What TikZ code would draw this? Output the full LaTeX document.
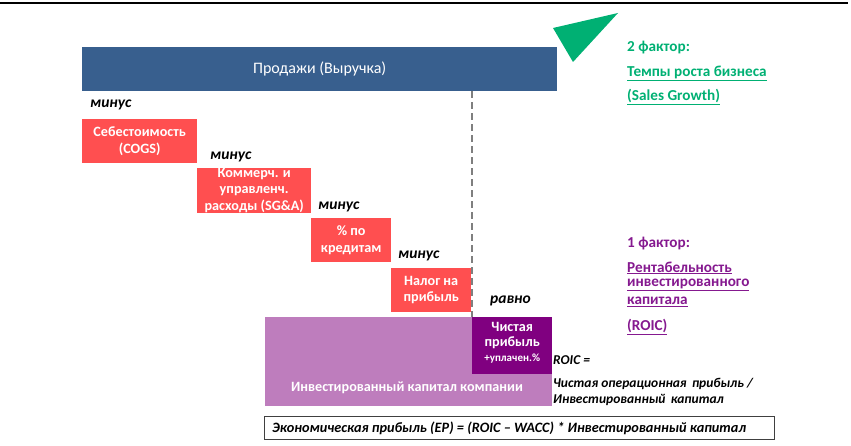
\documentclass[tikz,border=0pt]{standalone}
\usepackage{fontspec}
\setmainfont{Carlito}
\definecolor{salesblue}{HTML}{385F8E}
\definecolor{costred}{HTML}{FF4F50}
\definecolor{lightpurple}{HTML}{BE7DBD}
\definecolor{darkpurple}{HTML}{800080}
\definecolor{greenf}{HTML}{00B073}
\definecolor{purplef}{HTML}{85198F}
\definecolor{dashgray}{HTML}{7F7F7F}
\tikzset{
  blockbox/.style={draw=none, anchor=north west, inner sep=0pt, align=center, text=white, font=\bfseries\fontsize{14.2}{16.5}\selectfont},
  costbox/.style={blockbox, fill=costred},
  oplabel/.style={anchor=west, inner sep=0pt, font=\bfseries\itshape\fontsize{15.5}{18}\selectfont},
  greentext/.style={anchor=west, inner sep=0pt, text=greenf, font=\bfseries\fontsize{15.2}{18}\selectfont},
  purpletext/.style={anchor=west, inner sep=0pt, text=purplef, font=\bfseries\fontsize{15.2}{18}\selectfont},
  roictext/.style={anchor=west, inner sep=0pt, font=\bfseries\itshape\fontsize{13.5}{16}\selectfont},
}
\begin{document}
\begin{tikzpicture}[x=1pt,y=-1pt]
\useasboundingbox (0,0) rectangle (851,446);
% top rule
\coordinate (tl) at (0,3);
\coordinate (tr) at (848,3);
\draw[line width=1.5pt, black] (tl) -- (tr);
% green triangle
\fill[greenf] (553,28) -- (618,13) -- (573,62) -- cycle;
% sales bar
\node[blockbox, fill=salesblue, minimum width=475pt, minimum height=44pt, font=\fontsize{16}{19}\selectfont] (sales) at (82,47) {Продажи (Выручка)};
% cost boxes
\node[costbox, minimum width=115pt, minimum height=44pt] (cogs) at (82,119) {Себестоимость\\(COGS)};
\node[costbox, minimum width=114pt, minimum height=44pt] (sga) at (197,168) {Коммерч. и\\управленч.\\расходы (SG\&A)};
\node[costbox, minimum width=80pt, minimum height=44pt] (int) at (311,218) {\% по\\кредитам};
\node[costbox, minimum width=80pt, minimum height=44pt] (tax) at (391,268) {Налог на\\прибыль};
% minus / equal labels
\node[oplabel] (m1) at (90,105) {минус};
\node[oplabel] (m2) at (210,157) {минус};
\node[oplabel] (m3) at (318,207) {минус};
\node[oplabel] (m4) at (398,256) {минус};
\node[oplabel] (eq) at (490,301) {равно};
% invested capital
\node[blockbox, fill=lightpurple, minimum width=287pt, minimum height=89pt] (ic) at (265,317) {};
\node[blockbox, fill=darkpurple, minimum width=80pt, minimum height=57pt] (np) at (472,317) {};
\node[inner sep=0pt, text=white, font=\bfseries\fontsize{14.2}{16}\selectfont] (ictext) at (407,388) {Инвестированный капитал компании};
\node[inner sep=0pt, text=white, align=center, font=\bfseries\fontsize{14.2}{15.5}\selectfont] (nptext) at (np.north) [anchor=north, yshift=-5pt] {Чистая\\прибыль\\[-1pt]{\fontsize{11}{12}\selectfont +уплачен.\%}};
% dashed divider
\draw[dashgray, line width=2pt, dash pattern=on 7pt off 4pt] (sales.south -| np.north west) -- (np.north west);
% ROIC formula
\node[roictext] (roic1) at (553,360) {ROIC =};
\node[roictext] (roic2) at (553,384) {Чистая операционная\,\ прибыль /};
\node[roictext] (roic3) at (553,400) {Инвестированный\,\ капитал};
% EP formula box
\node[draw=black!75, line width=1pt, anchor=north west, minimum width=510pt, minimum height=23pt, inner sep=0pt] (ep) at (264,416) {};
\node[anchor=west, inner sep=0pt, font=\bfseries\itshape\fontsize{14.3}{16}\selectfont] (eptext) at ([xshift=8pt]ep.west) {Экономическая прибыль (EP) = (ROIC -- WACC) * Инвестированный капитал};
% factor 2
\node[greentext] (f2a) at (627,48) {2 фактор:};
\node[greentext] (f2b) at (627,73) {\underline{Темпы роста бизнеса}};
\node[greentext] (f2c) at (627,97) {\underline{(Sales Growth)}};
% factor 1
\node[purpletext] (f1a) at (627,244) {1 фактор:};
\node[purpletext] (f1b) at (627,268) {\underline{Рентабельность}};
\node[purpletext] (f1c) at (627,285) {\underline{инвестированного}};
\node[purpletext] (f1d) at (627,302) {\underline{капитала}};
\node[purpletext] (f1e) at (627,327) {\underline{(ROIC)}};
\end{tikzpicture}
\end{document}
